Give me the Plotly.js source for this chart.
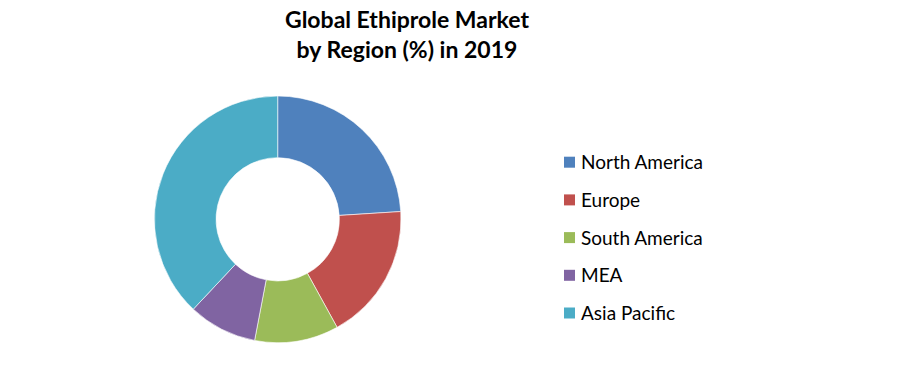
<!DOCTYPE html>
<html>
<head>
<meta charset="utf-8">
<script src="https://cdn.plot.ly/plotly-3.0.1.min.js"></script>
<style>html,body{margin:0;padding:0;background:#fff;}#chart{width:897px;height:383px;}</style>
</head>
<body>
<div id="chart"></div>
<script>
const regions = ["North America", "Europe", "South America", "MEA", "Asia Pacific"];
const shares = [24, 18, 11, 9, 38];
const colors = ["#4F81BD", "#C0504D", "#9BBB59", "#8064A2", "#4BACC6"];
const titleText = "Global Ethiprole Market<br>by Region (%) in 2019";

const W = 897, H = 383;
const legendX = 564, legendTop = 162.2, legendGap = 37.7, box = 11;

const shapes = [];
const annotations = [];
regions.forEach((r, i) => {
  const cy = legendTop + i * legendGap;
  shapes.push({
    type: "rect", xref: "paper", yref: "paper",
    x0: legendX / W, x1: (legendX + box) / W,
    y0: 1 - (cy + box / 2) / H, y1: 1 - (cy - box / 2) / H,
    fillcolor: colors[i], line: {width: 0}
  });
  annotations.push({
    xref: "paper", yref: "paper", x: 579 / W, y: 1 - (cy - 0.5) / H,
    xanchor: "left", yanchor: "middle", showarrow: false,
    text: r, font: {family: "Lato, sans-serif", size: 19, color: "#000"}
  });
});
annotations.push({
  xref: "paper", yref: "paper", x: 407 / W, y: 1 - 33.5 / H,
  xanchor: "center", yanchor: "middle", showarrow: false,
  text: "<b>" + titleText + "</b>", font: {family: "Lato, sans-serif", size: 23, color: "#000"}
});

const data = [{
  type: "pie",
  labels: regions,
  values: shares,
  hole: 0.5,
  sort: false,
  direction: "clockwise",
  rotation: 0,
  textinfo: "none",
  hoverinfo: "label+percent",
  marker: {colors: colors, line: {color: "#ffffff", width: 0.6}},
  domain: {x: [154.4 / W, 401 / W], y: [1 - 342.6 / H, 1 - 96 / H]},
  showlegend: false
}];

const layout = {
  width: W, height: H,
  margin: {l: 0, r: 0, t: 0, b: 0},
  paper_bgcolor: "#fff",
  shapes: shapes,
  annotations: annotations,
  showlegend: false
};

Plotly.newPlot("chart", data, layout, {displayModeBar: false, staticPlot: true});
</script>
</body>
</html>
